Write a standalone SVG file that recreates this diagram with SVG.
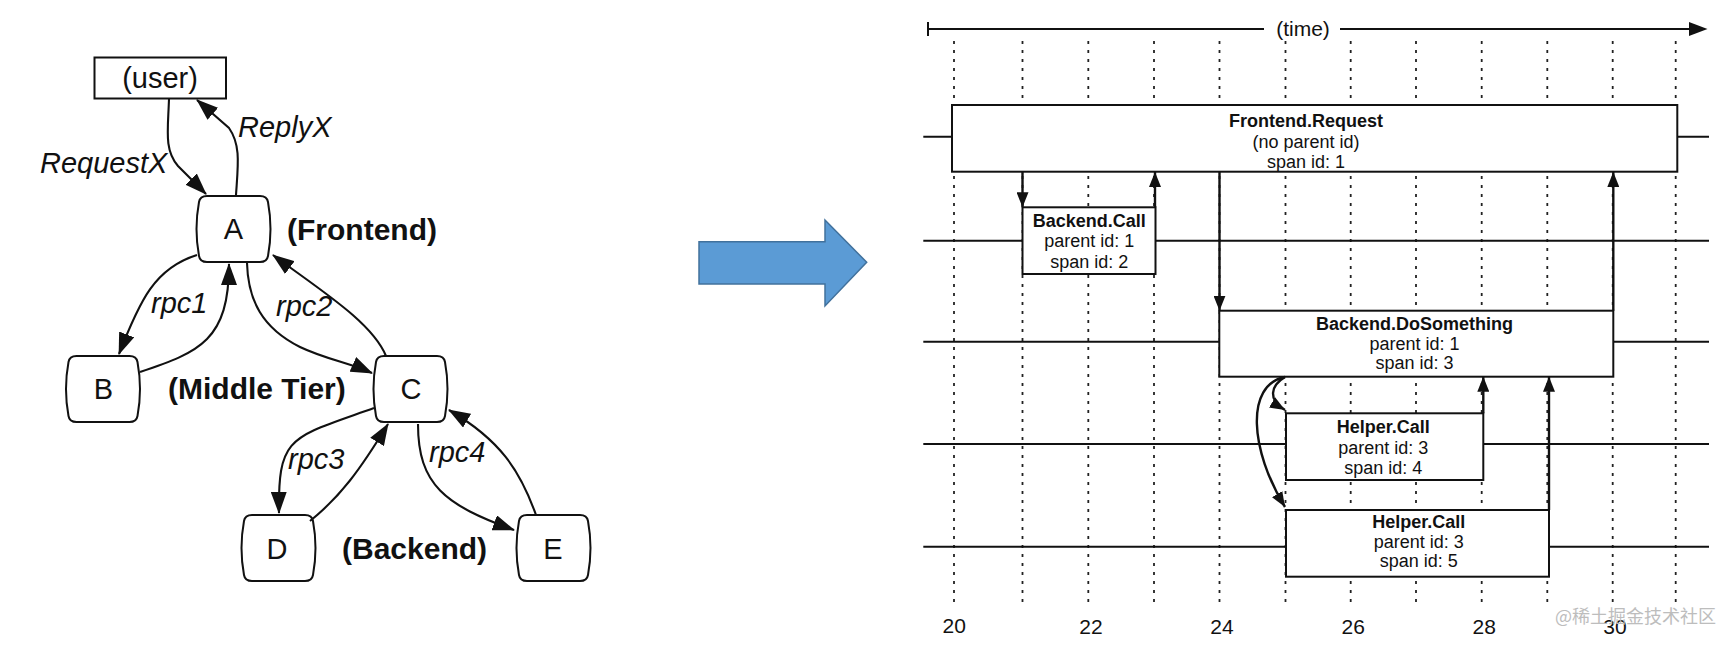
<svg xmlns="http://www.w3.org/2000/svg" width="1734" height="646" viewBox="0 0 1734 646">
<style>
.node{fill:#fff;stroke:#111;stroke-width:2}
.t{font-family:"Liberation Sans",Arial,Helvetica,sans-serif;fill:#111}
.big{font-size:29px}
.tier{font-size:30px;font-weight:bold}
.it{font-style:italic}
.b{font-weight:bold}
.mid{text-anchor:middle}
.edge{fill:none;stroke:#111;stroke-width:2.1;marker-end:url(#ah)}
.span{fill:#fff;stroke:#111;stroke-width:2}
.lane{stroke:#111;stroke-width:2}
.grid{stroke:#222;stroke-width:1.8;stroke-dasharray:3 6}
.call{fill:none;stroke:#111;stroke-width:2.4;marker-end:url(#ahs)}
.st{font-size:18px;text-anchor:middle}
.ax{font-size:21px;text-anchor:middle}
</style>
<defs>
<marker id="ah" viewBox="0 0 22 16" refX="21" refY="8" markerWidth="22" markerHeight="16" markerUnits="userSpaceOnUse" orient="auto"><path d="M0,0 L22,8 L0,16 Z" fill="#111"/></marker>
<marker id="ahs" viewBox="0 0 15 12" refX="15" refY="6" markerWidth="15" markerHeight="12" markerUnits="userSpaceOnUse" orient="auto"><path d="M0,0 L15,6 L0,12 Z" fill="#111"/></marker>
<path id="tub" d="M11,0 H64 Q71,0 72,6 Q77,33 72,60 Q71,66 64,66 H11 Q4,66 3,60 Q-2,33 3,6 Q4,0 11,0 Z"/>
</defs>
<rect width="1734" height="646" fill="#fff"/>

<!-- LEFT: service graph -->
<g id="node-user">
<rect x="94.5" y="57.5" width="131.5" height="41" fill="#fff" stroke="#111" stroke-width="2"/>
<text class="t big mid" x="160" y="88">(user)</text>
</g>
<g id="node-A"><use href="#tub" class="node" transform="translate(196,196)"/><text class="t big mid" x="233.5" y="239">A</text></g>
<g id="node-B"><use href="#tub" class="node" transform="translate(65.5,356)"/><text class="t big mid" x="103.5" y="398.5">B</text></g>
<g id="node-C"><use href="#tub" class="node" transform="translate(373,356)"/><text class="t big mid" x="411" y="398.5">C</text></g>
<g id="node-D"><use href="#tub" class="node" transform="translate(241,515)"/><text class="t big mid" x="277" y="558.5">D</text></g>
<g id="node-E"><use href="#tub" class="node" transform="translate(516,515)"/><text class="t big mid" x="553" y="558.5">E</text></g>

<g id="tier-labels">
<text class="t tier" x="287" y="239.5">(Frontend)</text>
<text class="t tier" x="168" y="398.5">(Middle Tier)</text>
<text class="t tier" x="342" y="558.5">(Backend)</text>
</g>

<g id="graph-edges">
<path class="edge" d="M169,99 C168,130 164,150 178,166 L206,194"/>
<path class="edge" d="M236,195 C238,165 241,145 229,128 L197,100"/>
<path class="edge" d="M197,255 C155,268 140,300 119,354"/>
<path class="edge" d="M140,372 C200,352 229,340 229,264"/>
<path class="edge" d="M247,263 C248,300 262,328 300,347 C325,359 350,363 372,373"/>
<path class="edge" d="M386,356 C372,322 320,290 273,255"/>
<path class="edge" d="M374,408 C290,438 278,435 279,513"/>
<path class="edge" d="M310,521 C340,497 360,470 388,424"/>
<path class="edge" d="M418,424 C418,485 445,505 514,530"/>
<path class="edge" d="M536,515 C520,470 500,440 449,410"/>
<text class="t big it" x="40" y="173">RequestX</text>
<text class="t big it" x="238" y="137">ReplyX</text>
<text class="t big it" x="151" y="313">rpc1</text>
<text class="t big it" x="276" y="316">rpc2</text>
<text class="t big it" x="288" y="469">rpc3</text>
<text class="t big it" x="429" y="461.5">rpc4</text>
</g>

<!-- Middle arrow -->
<g id="transform-arrow">
<polygon points="699,241.7 825,241.7 825,220 866.7,262.3 825,306 825,284 699,284" fill="#5b9bd5" stroke="#41719c" stroke-width="1.5"/>
</g>

<!-- RIGHT: timeline -->
<g id="time-axis">
<line x1="928" y1="29" x2="1264" y2="29" stroke="#111" stroke-width="2"/>
<line x1="1340" y1="29" x2="1692" y2="29" stroke="#111" stroke-width="2"/>
<line x1="928" y1="22" x2="928" y2="36" stroke="#111" stroke-width="2"/>
<polygon points="1689,22 1707.5,29 1689,36" fill="#111"/>
<text class="t mid" x="1303" y="35.5" font-size="21">(time)</text>
</g>

<g id="grid">
<line class="grid" x1="954" y1="41" x2="954" y2="607"/>
<line class="grid" x1="1022.5" y1="41" x2="1022.5" y2="607"/>
<line class="grid" x1="1088.3" y1="41" x2="1088.3" y2="607"/>
<line class="grid" x1="1154" y1="41" x2="1154" y2="607"/>
<line class="grid" x1="1219.5" y1="41" x2="1219.5" y2="607"/>
<line class="grid" x1="1285.5" y1="41" x2="1285.5" y2="607"/>
<line class="grid" x1="1350.7" y1="41" x2="1350.7" y2="607"/>
<line class="grid" x1="1416" y1="41" x2="1416" y2="607"/>
<line class="grid" x1="1481.7" y1="41" x2="1481.7" y2="607"/>
<line class="grid" x1="1547.3" y1="41" x2="1547.3" y2="607"/>
<line class="grid" x1="1612.7" y1="41" x2="1612.7" y2="607"/>
<line class="grid" x1="1675.7" y1="41" x2="1675.7" y2="607"/>
</g>

<g id="lanes">
<line class="lane" x1="923.3" y1="136.7" x2="1709" y2="136.7"/>
<line class="lane" x1="923.3" y1="240.7" x2="1709" y2="240.7"/>
<line class="lane" x1="923.3" y1="341.7" x2="1709" y2="341.7"/>
<line class="lane" x1="923.3" y1="444" x2="1709" y2="444"/>
<line class="lane" x1="923.3" y1="546.7" x2="1709" y2="546.7"/>
</g>

<g id="span-1">
<rect class="span" x="952" y="105" width="725.3" height="66.7"/>
<text class="t st b" x="1306" y="127.3">Frontend.Request</text>
<text class="t st" x="1306" y="148">(no parent id)</text>
<text class="t st" x="1306" y="168">span id: 1</text>
</g>
<g id="span-2">
<rect class="span" x="1022.5" y="207.3" width="133" height="66.7"/>
<text class="t st b" x="1089.3" y="226.8">Backend.Call</text>
<text class="t st" x="1089.3" y="247.3">parent id: 1</text>
<text class="t st" x="1089.3" y="268">span id: 2</text>
</g>
<g id="span-3">
<rect class="span" x="1219.3" y="310.7" width="394" height="66"/>
<text class="t st b" x="1414.5" y="330">Backend.DoSomething</text>
<text class="t st" x="1414.5" y="350">parent id: 1</text>
<text class="t st" x="1414.5" y="368.5">span id: 3</text>
</g>
<g id="span-4">
<rect class="span" x="1286" y="413.3" width="197.3" height="66.7"/>
<text class="t st b" x="1383.3" y="433.3">Helper.Call</text>
<text class="t st" x="1383.3" y="454">parent id: 3</text>
<text class="t st" x="1383.3" y="474">span id: 4</text>
</g>
<g id="span-5">
<rect class="span" x="1286" y="510" width="263" height="66.7"/>
<text class="t st b" x="1418.7" y="528.3">Helper.Call</text>
<text class="t st" x="1418.7" y="548.3">parent id: 3</text>
<text class="t st" x="1418.7" y="567.3">span id: 5</text>
</g>

<g id="span-calls">
<line class="call" x1="1022.5" y1="172" x2="1022.5" y2="207.3"/>
<line class="call" x1="1155" y1="207.3" x2="1155" y2="172"/>
<line class="call" x1="1219.5" y1="172" x2="1219.5" y2="310.7"/>
<line class="call" x1="1613.3" y1="310.7" x2="1613.3" y2="172"/>
<path class="call" d="M1285,377 C1270,386 1268,400 1285,410"/>
<path class="call" d="M1285,377 C1245,385 1250,450 1285,507"/>
<line class="call" x1="1483.3" y1="413.3" x2="1483.3" y2="376.7"/>
<line class="call" x1="1549" y1="510" x2="1549" y2="376.7"/>
</g>

<g id="axis-labels">
<text class="t ax" x="954.2" y="633">20</text>
<text class="t ax" x="1091" y="634">22</text>
<text class="t ax" x="1222" y="634">24</text>
<text class="t ax" x="1353.3" y="634">26</text>
<text class="t ax" x="1484.3" y="634">28</text>
<text class="t ax" x="1615" y="634">30</text>
</g>

<text x="1555" y="623" font-size="18" fill="#bdbdbd" font-family="'Noto Sans CJK SC','Noto Sans',sans-serif">@稀土掘金技术社区</text>
</svg>
